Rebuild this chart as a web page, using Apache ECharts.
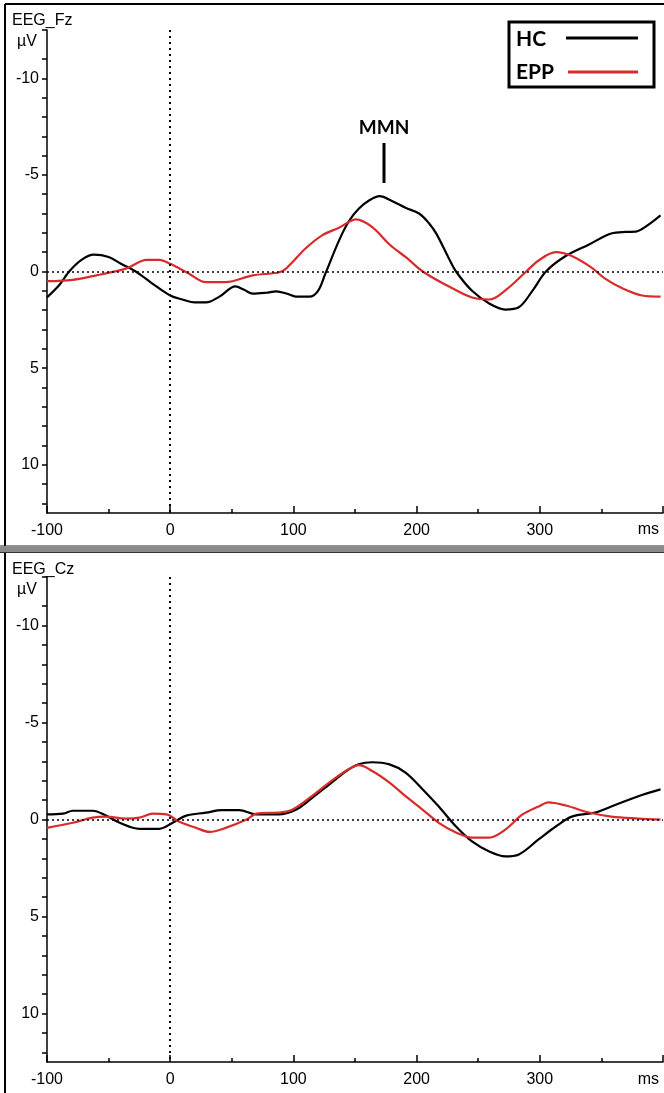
<!DOCTYPE html>
<html>
<head>
<meta charset="utf-8">
<style>
  html, body { margin: 0; padding: 0; background: #fff; }
  #chart { width: 664px; height: 1093px; }
</style>
<script src="https://cdn.jsdelivr.net/npm/echarts@6/dist/echarts.min.js"></script>
</head>
<body>
<div id="chart"></div>
<script>
// EEG_Fz - HC (black)
const fzHcT = [-100, -90, -82, -72, -62, -50, -40, -28, -15, 0, 10, 20, 29, 40, 53, 60, 67, 78, 86, 95, 102, 113, 120, 126, 137, 145, 153, 162, 170, 180, 191, 202, 210, 216, 226, 232, 245, 259, 272, 283, 294, 305, 321, 340, 358, 370, 378, 383, 390, 398];
const fzHcV = [1.34, 0.7, 0, -0.6, -0.87, -0.75, -0.4, 0, 0.6, 1.24, 1.45, 1.6, 1.6, 1.3, 0.77, 0.95, 1.15, 1.1, 1.03, 1.15, 1.3, 1.3, 1.0, 0.1, -1.6, -2.6, -3.25, -3.7, -3.9, -3.65, -3.3, -3.0, -2.5, -1.96, -0.7, 0, 1.0, 1.66, 1.97, 1.85, 1.0, 0, -0.8, -1.4, -1.97, -2.05, -2.06, -2.2, -2.5, -2.9];
// EEG_Fz - EPP (red)
const fzEppT = [-100, -79, -60, -36, -19, -9, 0, 15, 29, 45, 67, 88, 94, 110, 123, 137, 151, 164, 178, 192, 205, 224, 245, 259, 272, 289, 299, 313, 326, 342, 353, 367, 383, 398];
const fzEppV = [0.5, 0.43, 0.2, -0.15, -0.6, -0.6, -0.4, 0.1, 0.55, 0.55, 0.2, 0.05, -0.15, -1.2, -1.86, -2.27, -2.7, -2.3, -1.4, -0.7, 0, 0.7, 1.35, 1.45, 0.98, 0, -0.57, -1.0, -0.8, -0.2, 0.37, 0.87, 1.24, 1.3];
// EEG_Cz - HC
const czHcT = [-100, -87, -79, -63, -52, -41, -25, -9, 2, 13, 29, 42, 56, 70, 88, 102, 115, 129, 143, 153, 164, 178, 191, 205, 218, 232, 245, 259, 272, 283, 299, 313, 326, 345, 358, 380, 398];
const czHcV = [-0.26, -0.3, -0.45, -0.45, -0.2, 0.17, 0.48, 0.48, 0.17, -0.2, -0.35, -0.48, -0.48, -0.26, -0.26, -0.5, -1.1, -1.8, -2.5, -2.85, -2.95, -2.84, -2.42, -1.55, -0.67, 0.36, 1.13, 1.65, 1.9, 1.8, 1.03, 0.36, -0.15, -0.36, -0.67, -1.2, -1.55];
// EEG_Cz - EPP
const czEppT = [-100, -79, -63, -52, -36, -25, -14, -3, 7, 21, 32, 45, 62, 70, 88, 99, 115, 129, 145, 153, 164, 178, 191, 205, 218, 232, 245, 259, 272, 286, 299, 307, 321, 340, 358, 380, 398];
const czEppV = [0.43, 0.17, -0.1, -0.15, -0.05, -0.1, -0.3, -0.26, 0.1, 0.43, 0.64, 0.43, 0, -0.3, -0.36, -0.5, -1.2, -1.9, -2.6, -2.8, -2.5, -1.9, -1.2, -0.5, 0.17, 0.67, 0.93, 0.93, 0.52, -0.26, -0.67, -0.88, -0.72, -0.36, -0.15, -0.05, 0];

const yTicks = [-12.5, -11, -10, -9, -8, -7, -6, -5, -4, -3, -2, -1, 0, 1, 2, 3, 4, 5, 6, 7, 8, 9, 10, 11, 12];
const yLabels = [-10, -5, 0, 5, 10];
const panelNames = ['EEG_Fz', 'EEG_Cz'];
const groupNames = ['HC', 'EPP'];

const RED = '#d92b2b';
const labelFont = 'Liberation Sans';

function pairs(t, v) {
    return t.map(function (x, i) { return [x, v[i]]; });
}

function xAxisFor(idx) {
    return {
        type: 'value',
        gridIndex: idx,
        min: -100,
        max: 400,
        interval: 100,
        axisLine: { show: true, onZero: false, lineStyle: { color: '#000', width: 1.5 } },
        axisTick: { show: true, inside: true, length: 7, lineStyle: { color: '#000', width: 1.5 } },
        minorTick: { show: true, splitNumber: 2, length: 4, lineStyle: { color: '#000', width: 1.5 } },
        axisLabel: { color: '#000', fontSize: 16, fontFamily: labelFont, margin: 10, showMaxLabel: false },
        splitLine: { show: false }
    };
}

function yAxisFor(idx) {
    return {
        type: 'value',
        gridIndex: idx,
        inverse: true,
        min: -12.5,
        max: 12.5,
        axisLine: { show: true, onZero: false, lineStyle: { color: '#000', width: 1.5 } },
        axisTick: { show: true, length: 5, customValues: yTicks, lineStyle: { color: '#000', width: 1.5 } },
        axisLabel: { color: '#000', fontSize: 16, fontFamily: labelFont, margin: 8, customValues: yLabels },
        splitLine: { show: false }
    };
}

function zeroLines() {
    return {
        silent: true,
        symbol: 'none',
        label: { show: false },
        data: [
            { xAxis: 0, lineStyle: { color: '#000', type: [2, 4], width: 2 } },
            { yAxis: 0, lineStyle: { color: '#000', type: [2, 3], width: 1.5 } }
        ]
    };
}

function lineSeries(name, idx, data, color, withZero) {
    const s = {
        name: name,
        type: 'line',
        xAxisIndex: idx,
        yAxisIndex: idx,
        data: data,
        smooth: 0.35,
        showSymbol: false,
        lineStyle: { color: color, width: 2.2 },
        itemStyle: { color: color },
        z: 3
    };
    if (withZero) s.markLine = zeroLines();
    return s;
}

function txt(text, x, y, opts) {
    return {
        type: 'text',
        x: x,
        y: y,
        z: 10,
        style: Object.assign({
            text: text,
            fill: '#000',
            font: '16px "Liberation Sans"',
            align: 'left',
            verticalAlign: 'middle'
        }, opts || {})
    };
}

function ln(x1, y1, x2, y2, color, w) {
    return {
        type: 'line',
        z: 10,
        shape: { x1: x1, y1: y1, x2: x2, y2: y2 },
        style: { stroke: color, lineWidth: w }
    };
}

const chart = echarts.init(document.getElementById('chart'));

const option = {
    animation: false,
    backgroundColor: '#fff',
    grid: [
        { left: 47, top: 30, width: 616, height: 483 },
        { left: 47, top: 577, width: 616, height: 485 }
    ],
    xAxis: [xAxisFor(0), xAxisFor(1)],
    yAxis: [yAxisFor(0), yAxisFor(1)],
    series: [
        lineSeries(groupNames[0], 0, pairs(fzHcT, fzHcV), '#000', true),
        lineSeries(groupNames[1], 0, pairs(fzEppT, fzEppV), RED, false),
        lineSeries(groupNames[0], 1, pairs(czHcT, czHcV), '#000', true),
        lineSeries(groupNames[1], 1, pairs(czEppT, czEppV), RED, false)
    ],
    graphic: [
        // panel frames
        ln(5, 4, 664, 4, '#000', 2),
        ln(5, 4, 5, 546, '#000', 2),
        ln(0, 546, 664, 546, '#222', 1),
        { type: 'rect', z: 10, shape: { x: 0, y: 547, width: 664, height: 5 }, style: { fill: '#8a8a8a' } },
        ln(0, 552.5, 664, 552.5, '#333', 1),
        ln(5, 553, 5, 1093, '#000', 2),

        // panel titles and units
        txt(panelNames[0], 12, 21),
        txt('µV', 17, 42),
        txt('ms', 659, 530, { align: 'right' }),
        txt(panelNames[1], 12, 570),
        txt('µV', 17, 590),
        txt('ms', 659, 1080, { align: 'right' }),

        // legend box
        { type: 'rect', z: 10, shape: { x: 509, y: 22, width: 145, height: 65 }, style: { fill: '#fff', stroke: '#000', lineWidth: 3 } },
        txt(groupNames[0], 516, 39, { font: 'bold 21px Lato' }),
        txt(groupNames[1], 516, 72, { font: 'bold 21px Lato' }),
        ln(566, 38, 638, 38, '#000', 3),
        ln(568, 72, 638, 72, RED, 3),

        // MMN marker
        txt('MMN', 384, 128, { font: 'bold 19px Lato', align: 'center' }),
        ln(384, 143, 384, 183, '#000', 3)
    ]
};

chart.setOption(option);
</script>
</body>
</html>
